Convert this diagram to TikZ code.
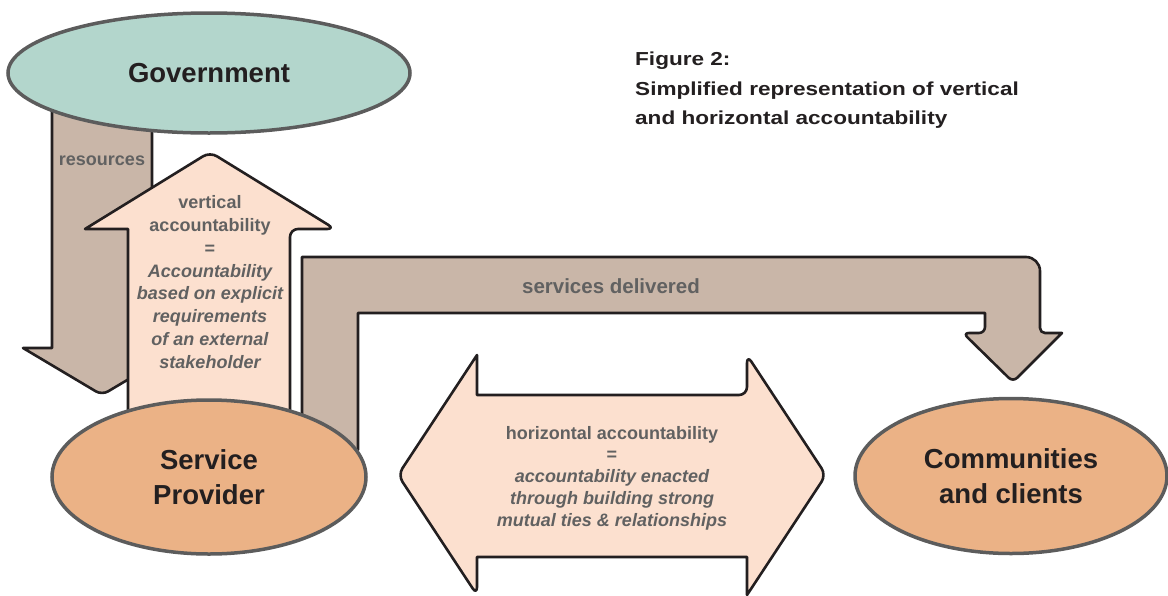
\documentclass[tikz,border=0pt]{standalone}
\usepackage{fontspec}
\setmainfont{Liberation Sans}
\newfontfamily\titlefont{Liberation Sans Bold}[FakeStretch=1.2]
\usetikzlibrary{shapes.geometric}

\definecolor{govfill}{HTML}{B3D6CC}
\definecolor{orangefill}{HTML}{EBB286}
\definecolor{peach}{HTML}{FCE0CF}
\definecolor{taupe}{HTML}{C9B6A8}
\definecolor{edge}{HTML}{231F20}
\definecolor{rim}{HTML}{5C5C5C}
\definecolor{labelgrey}{HTML}{616161}

\begin{document}
\begin{tikzpicture}[x=1pt,y=-1pt,
  party/.style={ellipse, draw=rim, line width=3.5pt, align=center, text=edge,
    font=\bfseries\fontsize{27.5}{35}\selectfont, inner sep=0pt},
  flow/.style={draw=edge, line width=2.6pt, line join=round},
  tag/.style={text=labelgrey, font=\bfseries\fontsize{18}{22.8}\selectfont,
    align=center, inner sep=0pt},
]
\useasboundingbox (0,0) rectangle (1168,595);
\clip (0,0) rectangle (1168,595);

% resources flowing down from government
\draw[flow, fill=taupe] (52,80) -- (52,348) -- (23,348) [rounded corners=7pt]
  -- (102,395) -- (181,348) -- (152,348) [sharp corners] -- (152,80) -- cycle;

\node[party, fill=govfill, minimum width=402pt, minimum height=120pt]
  (gov) at (209,73) {Government};

% vertical accountability arrow pointing up
\draw[flow, fill=peach] (128,440) -- (128,229) -- (85,229) [rounded corners=8pt]
  -- (210,152) -- (335,229) -- (290,229) [sharp corners] -- (290,440) -- cycle;

% bent arrow: services delivered
\draw[flow, fill=taupe] (302,450) -- (302,257) [rounded corners=14pt]
  -- (1040,257) [rounded corners=5pt] -- (1040,333) [sharp corners]
  -- (1062,333) [rounded corners=6pt] -- (1013,382) -- (963,333)
  -- (985,333) [sharp corners] -- (985,313) -- (358,313) -- (358,450) -- cycle;

% horizontal accountability double arrow
\draw[flow, fill=peach] (477,395) -- (477,355) [rounded corners=8pt]
  -- (398,475) -- (477,595) [sharp corners] -- (477,557) -- (747,557)
  -- (747,595) [rounded corners=8pt] -- (826,475) -- (747,355)
  -- (747,395) [sharp corners] -- cycle;

\node[party, fill=orangefill, minimum width=314pt, minimum height=154pt]
  (provider) at (209,477) {Service\\Provider};
\node[party, fill=orangefill, minimum width=312pt, minimum height=155pt]
  (clients) at (1011,476) {Communities\\and clients};

% labels
\node[tag] (res) at (102,161) {resources};
\node[tag, font=\bfseries\fontsize{20.5}{24}\selectfont] (serv) at (611,286)
  {services delivered};
\node[tag] (vert) at (210,282) {vertical\\accountability\\=\\
  \itshape Accountability\\\itshape based on explicit\\
  \itshape requirements\\\itshape of an external\\\itshape stakeholder};
\node[tag, font=\bfseries\fontsize{18}{21.8}\selectfont] (horiz) at (612,478)
  {horizontal accountability\\=\\\itshape accountability enacted\\
  \itshape through building strong\\\itshape mutual ties \& relationships};

% caption
\node[anchor=north west, inner sep=0pt, align=left, text=edge,
  font=\titlefont\fontsize{18.8}{29.5}\selectfont] (title) at (635,52)
  {Figure 2:\\Simplified representation of vertical\\and horizontal accountability};
\end{tikzpicture}
\end{document}
